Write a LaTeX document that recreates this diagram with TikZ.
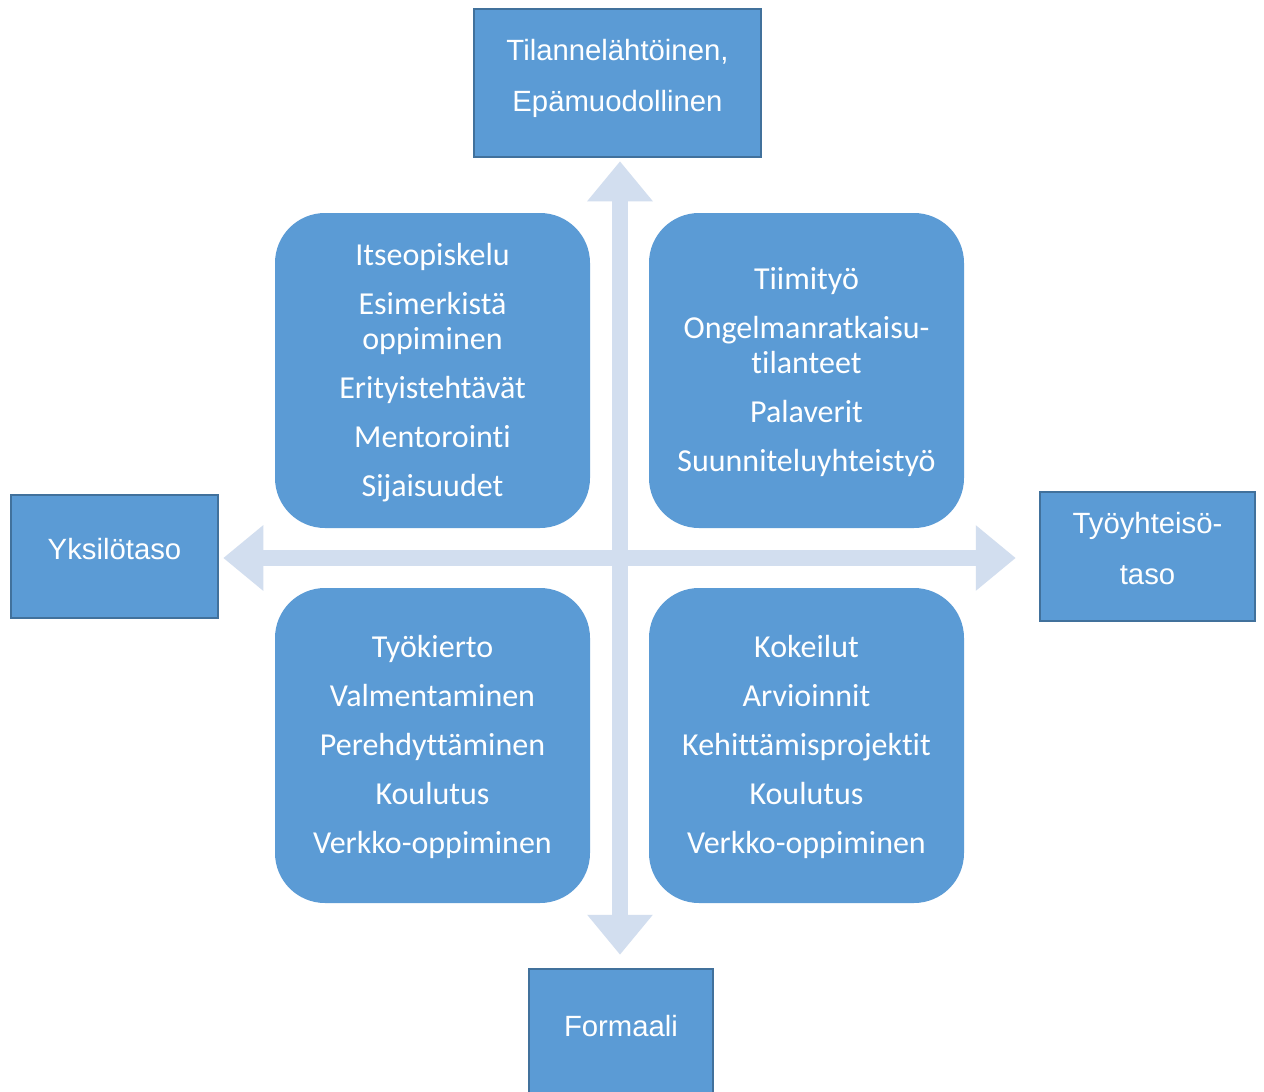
\documentclass[tikz,border=0pt]{standalone}
\usepackage{fontspec}
\newfontfamily\arialf{Liberation Sans}
\newfontfamily\calibf[Ligatures={NoCommon,NoContextual}]{Carlito}
\usetikzlibrary{arrows.meta}
\definecolor{boxblue}{HTML}{5B9BD5}
\definecolor{boxedge}{HTML}{41719C}
\definecolor{axisblue}{HTML}{D2DEEF}
\tikzset{
  polebox/.style={draw=boxedge, line width=2.5pt, fill=boxblue, text=white,
    align=center, inner sep=0pt, text depth=16pt,
    font=\arialf\fontsize{29.3}{51}\selectfont},
  quadbox/.style={fill=boxblue, text=white, rounded corners=50pt,
    minimum width=315pt, minimum height=315pt, align=center, inner sep=0pt,
    text depth=1.5pt,
    font=\calibf\fontsize{32}{35}\selectfont},
  axis/.style={draw=axisblue, line width=16pt,
    arrows={Triangle[length=40pt,width=63pt]-Triangle[length=40pt,width=63pt]}}
}
\begin{document}
\begin{tikzpicture}[x=1pt,y=-1pt]
  \fill[white] (0,0) rectangle (1264,1092);
  \useasboundingbox (0,0) rectangle (1264,1092);
  \clip (0,0) rectangle (1264,1092);

  % the four poles of the two axes
  \node[polebox, minimum width=287pt, minimum height=148pt] (top) at (617.5,83)
    {Tilannelähtöinen,\\Epämuodollinen};
  \node[polebox, minimum width=207pt, minimum height=123pt] (left) at (114.5,556.5)
    {Yksilötaso};
  \node[polebox, minimum width=215pt, minimum height=129pt] (right) at (1147.5,556.5)
    {Työyhteisö-\\taso};
  \node[polebox, minimum width=184pt, minimum height=130pt] (bottom) at (621,1034)
    {Formaali};

  % crossing axes
  \coordinate (c) at (620,558);
  \draw[axis, shorten <=3pt, shorten >=13pt] (top.south -| c) -- (bottom.north -| c);
  \draw[axis, shorten <=4pt, shorten >=23pt] (left.east |- c) -- (right.west |- c);

  % quadrants
  \node[quadbox] (q1) at (432.5,370.5)
    {Itseopiskelu\\[14pt]Esimerkistä\\oppiminen\\[14pt]Erityistehtävät\\[14pt]Mentorointi\\[14pt]Sijaisuudet};
  \node[quadbox] (q2) at (806.5,370.5)
    {Tiimityö\\[14pt]Ongelmanratkaisu-\\tilanteet\\[14pt]Palaverit\\[14pt]Suunniteluyhteistyö};
  \node[quadbox] (q3) at (432.5,745.5)
    {Työkierto\\[14pt]Valmentaminen\\[14pt]Perehdyttäminen\\[14pt]Koulutus\\[14pt]Verkko-oppiminen};
  \node[quadbox] (q4) at (806.5,745.5)
    {Kokeilut\\[14pt]Arvioinnit\\[14pt]Kehittämisprojektit\\[14pt]Koulutus\\[14pt]Verkko-oppiminen};
\end{tikzpicture}
\end{document}
